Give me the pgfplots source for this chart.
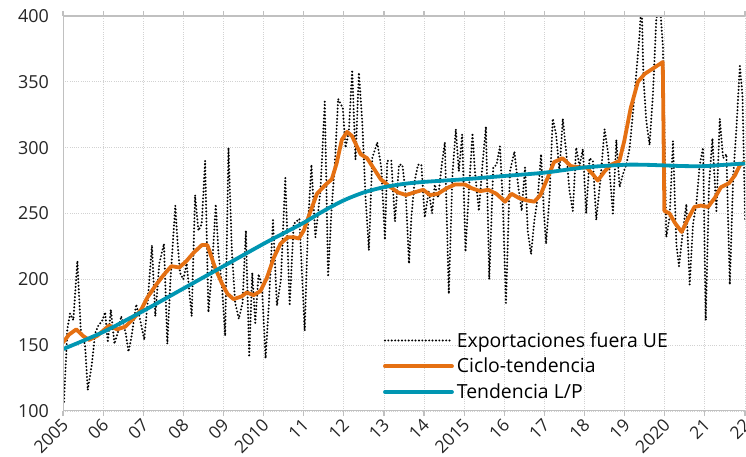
\documentclass[border=0pt]{standalone}
\usepackage{pgfplots}
\pgfplotsset{compat=1.18}
\usepackage{fontspec}
\setmainfont{Open Sans}

\definecolor{cicloorange}{RGB}{229,112,18}
\definecolor{tendteal}{RGB}{0,150,178}
\definecolor{axisgray}{RGB}{192,192,192}
\definecolor{gridgray}{RGB}{210,210,210}

\begin{document}
\begin{tikzpicture}
\begin{axis}[
  name=ax,
  scale only axis,
  width=682bp, height=395bp,
  xmin=2005, xmax=2022,
  ymin=100, ymax=400,
  xtick={2005,...,2022},
  xticklabels={2005,06,07,08,09,2010,11,12,13,14,2015,16,17,18,19,2020,21,22},
  ytick={100,150,...,400},
  /pgf/number format/assume math mode=true,
  ticklabel style={font=\fontsize{18}{21}\selectfont, text=black!85},
  xticklabel style={font=\fontsize{17.5}{21}\selectfont, rotate=45, anchor=north east,
    inner sep=1bp, xshift=-1.5bp, yshift=2bp},
  yticklabel style={inner sep=2bp, xshift=-7bp},
  grid=major,
  major grid style={gridgray, line width=0.8bp, dash pattern=on 1bp off 1.2bp},
  axis line style={draw=none},
  tick align=outside,
  major tick length=5bp,
  xtick style={axisgray, line width=1.2bp},
  ytick style={draw=none},
  legend style={
    at={(0.469,0.022)}, anchor=south west,
    draw=none, fill=none,
    font=\fontsize{19.5}{22}\selectfont,
    inner sep=0pt, row sep=5.5bp,
    /tikz/every odd column/.append style={column sep=1bp},
  },
  legend cell align=left,
  legend image code/.code={\draw[#1] (0bp,0bp) -- (67bp,0bp);},
]

% monthly exports outside the EU
\addplot[black, line width=2.2bp, line cap=round, dash pattern=on 0bp off 3.4bp]
  table {
x y
2005.025 107
2005.108 162
2005.175 174
2005.258 169
2005.358 214
2005.442 162
2005.55 150
2005.617 116
2005.717 135
2005.8 159
2005.883 165
2005.97 168
2006.05 175
2006.117 152
2006.192 177
2006.283 151
2006.37 160
2006.45 172
2006.558 160
2006.633 145
2006.7 155
2006.825 181
2006.925 169
2007.025 154
2007.108 182
2007.217 226
2007.3 172
2007.4 212
2007.517 227
2007.6 151
2007.683 202
2007.8 256
2007.858 227
2007.917 205
2008.0 200
2008.083 212
2008.208 172
2008.292 264
2008.375 237
2008.458 242
2008.542 290
2008.625 175
2008.708 205
2008.808 257
2008.875 220
2008.958 197
2009.042 157
2009.125 300
2009.208 222
2009.292 182
2009.383 170
2009.475 182
2009.558 237
2009.642 141
2009.717 205
2009.792 167
2009.875 204
2009.958 195
2010.05 140
2010.133 182
2010.233 245
2010.333 180
2010.433 200
2010.542 277
2010.65 180
2010.75 242
2010.892 246
2011.025 161
2011.108 242
2011.192 287
2011.292 232
2011.417 267
2011.525 335
2011.608 202
2011.692 252
2011.775 287
2011.858 337
2011.975 330
2012.042 300
2012.125 312
2012.208 359
2012.292 291
2012.375 357
2012.458 320
2012.542 262
2012.625 222
2012.708 292
2012.833 304
2012.933 285
2013.025 230
2013.083 290
2013.183 290
2013.275 244
2013.375 287
2013.458 287
2013.542 266
2013.625 212
2013.683 247
2013.767 275
2013.85 287
2013.933 287
2014.017 247
2014.117 267
2014.2 250
2014.267 272
2014.35 262
2014.433 285
2014.517 304
2014.617 189
2014.708 280
2014.792 314
2014.867 282
2014.95 310
2015.033 221
2015.117 267
2015.208 311
2015.267 282
2015.367 252
2015.45 285
2015.542 316
2015.625 200
2015.725 285
2015.808 287
2015.892 301
2015.958 262
2016.042 182
2016.142 282
2016.25 297
2016.35 270
2016.433 252
2016.517 285
2016.583 237
2016.667 219
2016.75 245
2016.833 262
2016.917 295
2016.983 252
2017.042 227
2017.125 262
2017.208 322
2017.292 310
2017.375 282
2017.458 322
2017.542 297
2017.625 267
2017.708 252
2017.792 300
2017.875 286
2017.958 299
2018.042 250
2018.125 292
2018.208 290
2018.292 245
2018.4 277
2018.5 314
2018.583 297
2018.708 250
2018.792 306
2018.875 270
2018.958 280
2019.042 287
2019.125 300
2019.208 327
2019.292 357
2019.375 387
2019.42 415
2019.47 352
2019.54 320
2019.621 302
2019.704 340
2019.787 397
2019.871 412
2019.954 377
2020.038 232
2020.121 247
2020.204 305
2020.288 227
2020.354 210
2020.454 237
2020.537 257
2020.621 196
2020.704 242
2020.787 257
2020.871 287
2020.954 300
2021.021 169
2021.104 272
2021.187 307
2021.287 252
2021.371 322
2021.454 292
2021.537 295
2021.621 196
2021.704 277
2021.787 315
2021.871 362
2021.937 340
2022.004 245
};
\addlegendentry{Exportaciones fuera UE}

% cycle-trend component
\addplot[cicloorange, line width=3.8bp, line join=round, line cap=round]
  table {
x y
2005.0 152
2005.15 158
2005.33 162
2005.5 157
2005.65 154
2005.85 157
2006.0 161
2006.15 165
2006.35 162
2006.55 164
2006.75 170
2006.95 177
2007.1 186
2007.3 195
2007.5 203
2007.7 210
2007.9 209
2008.08 214
2008.25 220
2008.46 226
2008.6 226
2008.8 208
2008.96 197
2009.1 189
2009.25 185
2009.45 187
2009.58 190
2009.75 188
2009.92 191
2010.08 201
2010.25 216
2010.42 227
2010.6 232
2010.75 232
2010.88 231
2011.0 237
2011.15 250
2011.33 265
2011.55 272
2011.7 276
2011.82 288
2011.95 306
2012.08 312
2012.2 309
2012.42 295
2012.58 292
2012.75 284
2012.92 276
2013.12 271
2013.35 266
2013.55 264
2013.75 266
2013.98 268
2014.15 264
2014.35 265
2014.55 269
2014.77 272
2015.02 272
2015.2 269
2015.4 267
2015.6 268
2015.8 265
2016.02 259
2016.18 265
2016.35 262
2016.55 260
2016.75 259
2016.9 264
2017.08 277
2017.24 289
2017.45 292
2017.66 286
2017.87 285
2018.05 285
2018.2 280
2018.33 275
2018.5 282
2018.66 287
2018.87 290
2018.99 305
2019.15 330
2019.33 350
2019.5 356
2019.75 361
2019.95 365
2019.99 252
2020.12 250
2020.25 243
2020.42 236
2020.58 246
2020.74 255
2020.9 256
2021.08 255
2021.25 262
2021.4 270
2021.6 273
2021.75 279
2021.88 287
2022.0 289
};
\addlegendentry{Ciclo-tendencia}

% long-run trend
\addplot[tendteal, line width=3.8bp, line join=round, line cap=round, smooth]
  table {
x y
2005 147
2006 160
2007 176
2008 193
2009 210
2010 227
2010.5 235
2011 243
2011.5 252
2012 260
2012.5 266
2013 270
2013.5 272.5
2014 274
2015 276
2016 278.5
2017 281
2018 285
2019 287
2019.5 287
2020 286.5
2020.5 286
2021 286
2021.5 287
2022 288
};
\addlegendentry{Tendencia L/P}

% frame: left, bottom and top edges
\draw[axisgray, line width=1.8bp]
  (rel axis cs:0,1) -- (rel axis cs:1,1)
  (rel axis cs:0,0) -- (rel axis cs:0,1)
  (rel axis cs:0,0) -- (rel axis cs:1,0);
\end{axis}
\pgfresetboundingbox
\path ([xshift=-63bp,yshift=-46bp]ax.south west) rectangle ([xshift=1bp,yshift=16bp]ax.north east);
\end{tikzpicture}
\end{document}
